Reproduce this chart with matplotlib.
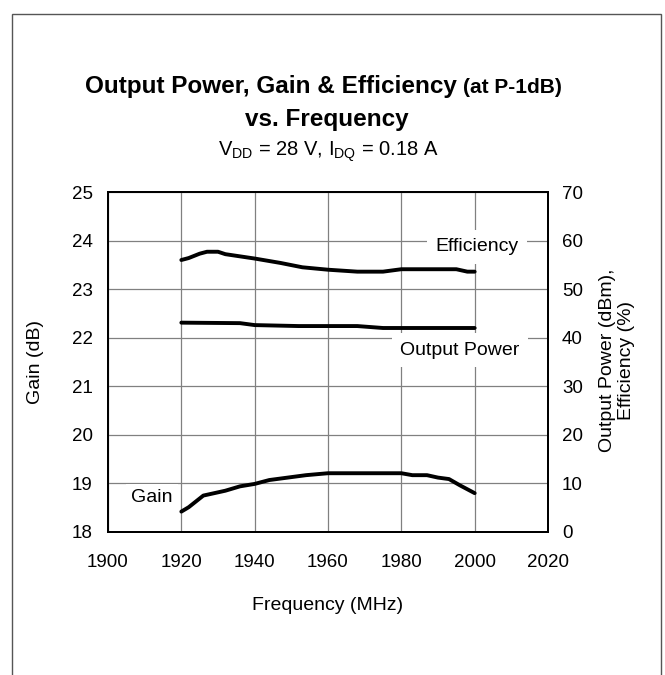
import matplotlib.pyplot as plt
from matplotlib.patches import Rectangle

plt.rcParams["font.family"] = ["Liberation Sans", "DejaVu Sans"]
plt.rcParams["mathtext.fontset"] = "custom"
plt.rcParams["mathtext.rm"] = "Liberation Sans"

# values
freq_gain = [1920, 1922, 1926, 1932, 1936, 1940, 1944, 1949, 1954, 1960,
             1980, 1983, 1987, 1990, 1993, 1996, 2000]
gain = [18.42, 18.51, 18.75, 18.85, 18.94, 18.99, 19.07, 19.12, 19.17, 19.21,
        19.21, 19.17, 19.17, 19.12, 19.09, 18.96, 18.80]

freq_eff = [1920, 1922, 1925, 1927, 1930, 1932, 1940, 1947, 1953, 1960,
            1968, 1975, 1980, 1995, 1998, 2000]
eff = [56.0, 56.4, 57.3, 57.7, 57.7, 57.2, 56.3, 55.4, 54.5, 54.0,
       53.6, 53.6, 54.1, 54.1, 53.6, 53.6]

freq_pout = [1920, 1936, 1940, 1952, 1968, 1975, 2000]
pout = [43.1, 43.0, 42.6, 42.4, 42.4, 42.0, 42.0]

x_ticks = [1900, 1920, 1940, 1960, 1980, 2000, 2020]
gain_ticks = [18, 19, 20, 21, 22, 23, 24, 25]
right_ticks = [0, 10, 20, 30, 40, 50, 60, 70]

W, H = 665, 675
fig = plt.figure(figsize=(W / 100, H / 100), dpi=100)

# outer frame (open at the bottom)
fig.patches.append(Rectangle((12 / W, -0.05), 649 / W, 1.04 - 7 / H,
                             transform=fig.transFigure, fill=False,
                             edgecolor="#555555", linewidth=1.0))

ax = fig.add_axes([108 / W, (H - 532) / H, 440 / W, 340 / H])
ax2 = ax.twinx()

ax.set_xlim(1900, 2020)
ax.set_ylim(18, 25)
ax2.set_ylim(0, 70)
ax.set_xticks(x_ticks)
ax.set_yticks(gain_ticks)
ax2.set_yticks(right_ticks)

ax.grid(True, color="#808080", linewidth=0.9)
ax.set_axisbelow(True)
ax.tick_params(length=0, labelsize=13.5, pad=16)
ax.tick_params(axis="y", pad=11)
ax2.tick_params(length=0, labelsize=13.5, pad=10)
for a in (ax, ax2):
    for s in a.spines.values():
        s.set_linewidth(1.4)
        s.set_color("black")

ax.plot(freq_gain, gain, color="black", linewidth=2.8, solid_capstyle="round")
ax2.plot(freq_eff, eff, color="black", linewidth=2.8, solid_capstyle="round")
ax2.plot(freq_pout, pout, color="black", linewidth=2.8, solid_capstyle="round")

box = dict(facecolor="white", edgecolor="none", pad=4)
ax2.text(2000.6, 58.7, "Efficiency", fontsize=14, ha="center", va="center",
         bbox=dict(facecolor="white", edgecolor="none", pad=6))
ax2.text(1996, 37.4, "Output Power", fontsize=14, ha="center", va="center",
         bbox=dict(facecolor="white", edgecolor="none", pad=6))
ax.text(1912, 18.70, "Gain", fontsize=14, ha="center", va="center", bbox=box)

fig.text(35 / W, 1 - 362 / H, "Gain (dB)", fontsize=14, rotation=90,
         ha="center", va="center")
fig.text(617 / W, 1 - 360 / H, "Output Power (dBm),\nEfficiency (%)", fontsize=14,
         rotation=90, ha="center", va="center", linespacing=1.1)
fig.text(328 / W, 1 - 605 / H, "Frequency (MHz)", fontsize=14,
         ha="center", va="center")

fig.text(457 / W, 1 - 93 / H, "Output Power, Gain & Efficiency", fontsize=17.5,
         fontweight="bold", ha="right", va="baseline")
fig.text(463 / W, 1 - 93 / H, "(at P-1dB)", fontsize=15,
         fontweight="bold", ha="left", va="baseline")
fig.text(327 / W, 1 - 126 / H, "vs. Frequency", fontsize=17.5,
         fontweight="bold", ha="center", va="baseline")
fig.text(328 / W, 1 - 156 / H, r"V$_{\rm DD}$ = 28 V, I$_{\rm DQ}$ = 0.18 A",
         fontsize=14.5, ha="center", va="baseline")

fig.savefig("out.png", dpi=100)
